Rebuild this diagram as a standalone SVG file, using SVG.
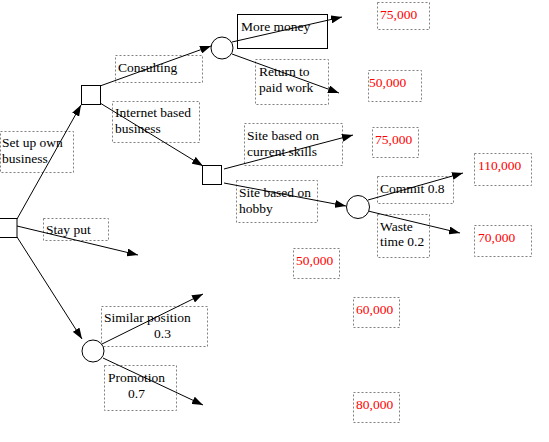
<svg xmlns="http://www.w3.org/2000/svg" width="549" height="442" viewBox="0 0 549 442">
<style>
.lbl{fill:none;stroke:#808080;stroke-width:1;stroke-dasharray:2,2}
.node{fill:#fff;stroke:#000;stroke-width:1}
text{font-family:'Liberation Serif','DejaVu Serif',serif;font-size:13.5px}
.t{fill:#000}
.v{fill:#ff0000}
.c{stroke:#000;stroke-width:1;fill:none;marker-end:url(#ah)}
</style>
<defs>
<marker id="ah" markerUnits="userSpaceOnUse" markerWidth="12" markerHeight="8" refX="11" refY="4" orient="auto">
<path d="M0,0 L11,4 L0,8 z" fill="#000"/>
</marker>
</defs>
<rect width="549" height="442" fill="#fff"/>
<g id="labels">
<g id="lbl-setup"><rect class="lbl" x="0.5" y="131.5" width="73" height="41"/><text class="t" x="2" y="147">Set up own</text><text class="t" x="2" y="163">business</text></g>
<g id="lbl-consulting"><rect class="lbl" x="115.5" y="55.5" width="87" height="27"/><text class="t" x="118" y="72">Consulting</text></g>
<g id="lbl-internet"><rect class="lbl" x="112.5" y="101.5" width="87" height="41"/><text class="t" x="115" y="117">Internet based</text><text class="t" x="115" y="133">business</text></g>
<g id="lbl-more"><rect x="237.5" y="14.5" width="90" height="34" fill="none" stroke="#000"/><text class="t" x="241" y="31">More money</text></g>
<g id="lbl-return"><rect class="lbl" x="255.5" y="59.5" width="73" height="45"/><text class="t" x="259" y="76">Return to</text><text class="t" x="259" y="92">paid work</text></g>
<g id="lbl-skills"><rect class="lbl" x="244.5" y="123.5" width="98" height="42"/><text class="t" x="247" y="140">Site based on</text><text class="t" x="247" y="156">current skills</text></g>
<g id="lbl-hobby"><rect class="lbl" x="236.5" y="180.5" width="81" height="42"/><text class="t" x="239" y="197">Site based on</text><text class="t" x="239" y="213">hobby</text></g>
<g id="lbl-commit"><rect class="lbl" x="377.5" y="176.5" width="76" height="27"/><text class="t" x="380" y="193">Commit 0.8</text></g>
<g id="lbl-waste"><rect class="lbl" x="377.5" y="214.5" width="52" height="43"/><text class="t" x="380" y="231">Waste</text><text class="t" x="380" y="246">time 0.2</text></g>
<g id="lbl-stay"><rect class="lbl" x="43.5" y="218.5" width="65" height="22"/><text class="t" x="46" y="234">Stay put</text></g>
<g id="lbl-similar"><rect class="lbl" x="101.5" y="306.5" width="106" height="40"/><text class="t" x="104" y="322">Similar position</text><text class="t" x="154" y="338">0.3</text></g>
<g id="lbl-promo"><rect class="lbl" x="104.5" y="365.5" width="72" height="45"/><text class="t" x="108" y="382">Promotion</text><text class="t" x="128" y="398">0.7</text></g>
</g>
<g id="values">
<g id="val-1"><rect class="lbl" x="377.5" y="2.5" width="52" height="27"/><text class="v" x="380" y="19">75,000</text></g>
<g id="val-2"><rect class="lbl" x="368.5" y="70.5" width="53" height="31"/><text class="v" x="369" y="87">50,000</text></g>
<g id="val-3"><rect class="lbl" x="372.5" y="127.5" width="46" height="30"/><text class="v" x="375" y="144">75,000</text></g>
<g id="val-4"><rect class="lbl" x="474.5" y="153.5" width="57" height="32"/><text class="v" x="478" y="170">110,000</text></g>
<g id="val-5"><rect class="lbl" x="474.5" y="225.5" width="57" height="31"/><text class="v" x="478" y="242">70,000</text></g>
<g id="val-6"><rect class="lbl" x="293.5" y="248.5" width="46" height="30"/><text class="v" x="296" y="265">50,000</text></g>
<g id="val-7"><rect class="lbl" x="353.5" y="297.5" width="46" height="30"/><text class="v" x="356" y="314">60,000</text></g>
<g id="val-8"><rect class="lbl" x="353.5" y="392.5" width="46" height="30"/><text class="v" x="356" y="409">80,000</text></g>
</g>
<g id="connectors">
<line class="c" x1="17" y1="219" x2="81" y2="105"/>
<line class="c" x1="100" y1="86" x2="211" y2="46"/>
<line class="c" x1="100" y1="103" x2="203" y2="166"/>
<line class="c" x1="232" y1="42" x2="342" y2="17"/>
<line class="c" x1="232" y1="54" x2="339" y2="93"/>
<line class="c" x1="224" y1="169" x2="353" y2="135"/>
<line class="c" x1="224" y1="183" x2="346" y2="206"/>
<line class="c" x1="368" y1="200" x2="463" y2="173"/>
<line class="c" x1="368" y1="211" x2="460" y2="233"/>
<line class="c" x1="17" y1="226" x2="138" y2="255"/>
<line class="c" x1="17" y1="237" x2="82" y2="339"/>
<line class="c" x1="102" y1="344" x2="203" y2="294"/>
<line class="c" x1="103" y1="358" x2="203" y2="405"/>
</g>
<g id="nodes">
<rect id="root" class="node" x="-3" y="218.5" width="20" height="19"/>
<rect id="decision-business" class="node" x="81.5" y="85.5" width="19" height="19"/>
<rect id="decision-internet" class="node" x="202.5" y="165.5" width="19" height="19"/>
<circle id="chance-consulting" class="node" cx="222" cy="48" r="11"/>
<circle id="chance-hobby" class="node" cx="358" cy="207" r="11.5"/>
<circle id="chance-stay" class="node" cx="93" cy="351" r="11"/>
</g>
</svg>
